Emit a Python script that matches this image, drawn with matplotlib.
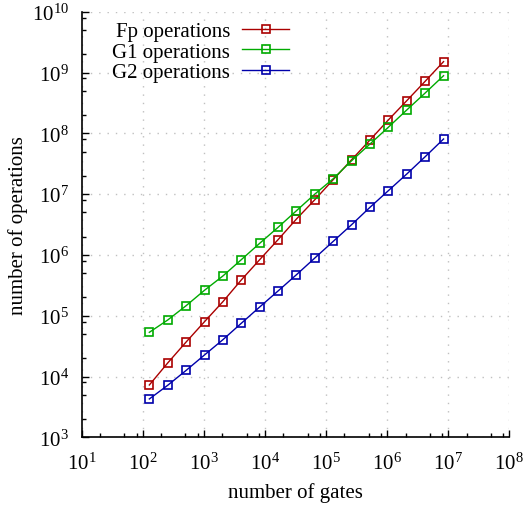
import matplotlib
matplotlib.use("Agg")
import matplotlib.pyplot as plt
from matplotlib.ticker import LogLocator, LogFormatterSciNotation, NullFormatter
import numpy as np

plt.rcParams['font.family'] = ['Liberation Serif', 'DejaVu Serif']
plt.rcParams['mathtext.fontset'] = 'custom'
plt.rcParams['mathtext.rm'] = 'Liberation Serif'
plt.rcParams['mathtext.it'] = 'Liberation Serif:italic'
plt.rcParams['mathtext.bf'] = 'Liberation Serif:bold'

gates = [2**k for k in range(7, 24)]
fp_ops = [7.25e3, 1.67e4, 3.69e4, 7.97e4, 1.70e5, 3.87e5, 8.34e5, 1.78e6, 3.89e6,
          8.09e6, 1.73e7, 3.68e7, 7.76e7, 1.66e8, 3.44e8, 7.17e8, 1.51e9]
g1_ops = [5.33e4, 8.5e4, 1.46e5, 2.62e5, 4.5e5, 8.34e5, 1.55e6, 2.84e6, 5.33e6,
          1.0e7, 1.79e7, 3.54e7, 6.67e7, 1.26e8, 2.42e8, 4.6e8, 8.86e8]
g2_ops = [4.27e3, 7.17e3, 1.26e4, 2.26e4, 4.03e4, 7.5e4, 1.39e5, 2.55e5, 4.72e5,
          8.89e5, 1.67e6, 3.14e6, 6.07e6, 1.14e7, 2.14e7, 4.12e7, 8.06e7]
labels = ["Fp operations", "G1 operations", "G2 operations"]
colors = ["#aa0000", "#00aa00", "#0000aa"]

W, H = 524, 506
fig = plt.figure(figsize=(W / 100, H / 100), dpi=100)
ax = fig.add_axes([81.7 / W, 67.7 / H, (509.3 - 81.7) / W, (493.3 - 67.7) / H])

for ys, lab, c in zip([fp_ops, g1_ops, g2_ops], labels, colors):
    ax.plot(gates, ys, color=c, lw=1.0, marker='s', markersize=5.2,
            markerfacecolor='none', markeredgecolor=c, markeredgewidth=1.2, label=lab)

ax.set_xscale('log')
ax.set_yscale('log')
ax.set_xlim(1e1, 1e8)
ax.set_ylim(1e3, 1e10)

for axis in (ax.xaxis, ax.yaxis):
    axis.set_major_locator(LogLocator(base=10, numticks=20))
    axis.set_minor_locator(LogLocator(base=10, subs=[2, 5, 8], numticks=20))
    axis.set_major_formatter(LogFormatterSciNotation())
    axis.set_minor_formatter(NullFormatter())

ax.tick_params(which='major', direction='in', length=5, width=1, labelsize=15)
ax.tick_params(axis='x', which='major', pad=11)
ax.tick_params(axis='y', which='major', pad=9)
ax.tick_params(which='minor', direction='in', length=2.6, width=1)

ax.spines['top'].set_visible(False)
ax.spines['right'].set_visible(False)
for s in ('left', 'bottom'):
    ax.spines[s].set_linewidth(1.2)

ax.grid(True, which='major', color='#c0c0c0', linestyle=(0, (1, 5)), linewidth=1.0)
ax.set_axisbelow(True)

ax.set_xlabel("number of gates", fontsize=15, labelpad=6)
ax.set_ylabel("number of operations", fontsize=15, labelpad=3)

leg = ax.legend(loc='upper right', bbox_to_anchor=(289 / W, 1 - 22.5 / H),
                bbox_transform=fig.transFigure, frameon=False, markerfirst=False,
                fontsize=15, handlelength=2.25, handletextpad=0.57, labelspacing=0.05,
                borderpad=0, borderaxespad=0)

fig.savefig("out.png", dpi=100)
